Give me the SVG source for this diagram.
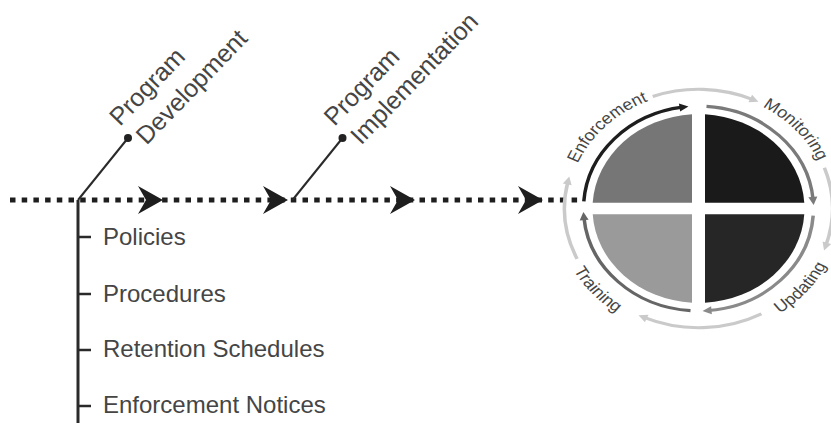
<svg xmlns="http://www.w3.org/2000/svg" width="831" height="423" viewBox="0 0 831 423">
  <style>
    .lbl { font-family: "Liberation Sans", Arial, sans-serif; fill: #454545; }
    .list { font-size: 24px; }
    .diag { font-size: 25px; }
    .ring { font-size: 18px; }
    .spine { stroke: #2a2a2a; fill: none; }
    .flow { stroke: #1e1e1e; stroke-width: 5; stroke-dasharray: 5.5 6.2; fill: none; }
    .head { fill: #1e1e1e; }
    .inner { fill: none; stroke-width: 3.5; }
    .outer { fill: none; stroke: #cacaca; stroke-width: 3.5; }
  </style>
  <defs>
    <marker id="ah-black" markerUnits="userSpaceOnUse" refX="3" refY="0" markerWidth="12" markerHeight="12" orient="auto" overflow="visible">
      <path d="M0,-4.5 L9,0 L0,4.5 Z" fill="#1e1e1e"/>
    </marker>
    <marker id="ah-mid" markerUnits="userSpaceOnUse" refX="3" refY="0" markerWidth="12" markerHeight="12" orient="auto" overflow="visible">
      <path d="M0,-4.5 L9,0 L0,4.5 Z" fill="#7a7a7a"/>
    </marker>
    <marker id="ah-mid2" markerUnits="userSpaceOnUse" refX="3" refY="0" markerWidth="12" markerHeight="12" orient="auto" overflow="visible">
      <path d="M0,-4.5 L9,0 L0,4.5 Z" fill="#8a8a8a"/>
    </marker>
    <marker id="ah-dark" markerUnits="userSpaceOnUse" refX="3" refY="0" markerWidth="12" markerHeight="12" orient="auto" overflow="visible">
      <path d="M0,-4.5 L9,0 L0,4.5 Z" fill="#666666"/>
    </marker>
    <marker id="ah-light" markerUnits="userSpaceOnUse" refX="3" refY="0" markerWidth="12" markerHeight="12" orient="auto" overflow="visible">
      <path d="M0,-4.5 L9,0 L0,4.5 Z" fill="#cacaca"/>
    </marker>
    <!-- label paths for the cycle wheel (local wheel coordinates) -->
    <path id="tp-enf" d="M-126.5,33.9 A131,131 0 0 1 33.9,-126.5"/>
    <path id="tp-mon" d="M-32.9,-126.8 A131,131 0 0 1 123.3,44.3"/>
    <path id="tp-upd" d="M-27.3,140.4 A143,143 0 0 0 135.2,-46.6"/>
    <path id="tp-trn" d="M-136.0,-44.2 A143,143 0 0 0 29.7,139.9"/>
  </defs>

  <!-- connectors: main timeline, branches and list spine -->
  <g id="connectors">
    <line class="flow" x1="10" y1="200" x2="582" y2="200"/>
    <path class="head" d="M138,186 L163,200 L138,214 L146,200 Z"/>
    <path class="head" d="M263,186 L288,200 L263,214 L271,200 Z"/>
    <path class="head" d="M390,186 L415,200 L390,214 L398,200 Z"/>
    <path class="head" d="M518,186 L543,200 L518,214 L526,200 Z"/>
    <line class="spine" stroke-width="2" x1="78" y1="200" x2="128" y2="138"/>
    <circle cx="128" cy="138" r="4" fill="#222"/>
    <line class="spine" stroke-width="2" x1="292.5" y1="200" x2="342.5" y2="138"/>
    <circle cx="342.5" cy="138" r="4" fill="#222"/>
    <line class="spine" stroke-width="3" x1="78" y1="200" x2="78" y2="423"/>
    <line class="spine" stroke-width="2.5" x1="78" y1="237" x2="91" y2="237"/>
    <line class="spine" stroke-width="2.5" x1="78" y1="294" x2="91" y2="294"/>
    <line class="spine" stroke-width="2.5" x1="78" y1="350" x2="91" y2="350"/>
    <line class="spine" stroke-width="2.5" x1="78" y1="406" x2="91" y2="406"/>
  </g>

  <g id="program-development">
    <text class="lbl diag" transform="translate(120,127) rotate(-46)"><tspan x="0" y="0">Program</tspan><tspan x="5" y="32">Development</tspan></text>
  </g>
  <g id="program-implementation">
    <text class="lbl diag" transform="translate(334.5,127) rotate(-46)"><tspan x="0" y="0">Program</tspan><tspan x="5" y="32">Implementation</tspan></text>
  </g>

  <g id="policies"><text class="lbl list" x="103" y="245">Policies</text></g>
  <g id="procedures"><text class="lbl list" x="103" y="302">Procedures</text></g>
  <g id="retention-schedules"><text class="lbl list" x="103" y="357">Retention Schedules</text></g>
  <g id="enforcement-notices"><text class="lbl list" x="103" y="413">Enforcement Notices</text></g>

  <!-- maintenance cycle wheel -->
  <g id="cycle" transform="translate(698.5,208.5) scale(1,0.89)">
    <g id="quadrants">
      <path d="M-6.5,-6.5 V-105.8 A106,106 0 0 0 -105.8,-6.5 Z" fill="#767676"/>
      <path d="M6.5,-6.5 H105.8 A106,106 0 0 0 6.5,-105.8 Z" fill="#1a1a1a"/>
      <path d="M6.5,6.5 V105.8 A106,106 0 0 0 105.8,6.5 Z" fill="#262626"/>
      <path d="M-6.5,6.5 H-105.8 A106,106 0 0 0 -6.5,105.8 Z" fill="#9a9a9a"/>
    </g>
    <g id="inner-arcs">
      <path class="inner" stroke="#1e1e1e" marker-end="url(#ah-black)" d="M-114.7,-8.0 A115,115 0 0 1 -16.0,-113.9"/>
      <path class="inner" stroke="#7a7a7a" marker-end="url(#ah-mid)" d="M8.0,-114.7 A115,115 0 0 1 114.6,-10.0"/>
      <path class="inner" stroke="#8a8a8a" marker-end="url(#ah-mid2)" d="M114.7,8.0 A115,115 0 0 1 10.0,114.6"/>
      <path class="inner" stroke="#666666" marker-end="url(#ah-dark)" d="M-8.0,114.7 A115,115 0 0 1 -114.6,10.0"/>
    </g>
    <g id="outer-arcs">
      <path class="outer" marker-end="url(#ah-light)" d="M-45.8,-125.9 A134,134 0 0 1 54.5,-122.4"/>
      <path class="outer" marker-end="url(#ah-light)" d="M125.9,-45.8 A134,134 0 0 1 127.4,41.4"/>
      <path class="outer" marker-end="url(#ah-light)" d="M62.9,118.3 A134,134 0 0 1 -54.5,122.4"/>
      <path class="outer" marker-end="url(#ah-light)" d="M-121.4,56.6 A134,134 0 0 1 -130.6,-30.1"/>
    </g>
    <g id="enforcement"><text class="lbl ring"><textPath href="#tp-enf" startOffset="50%" text-anchor="middle">Enforcement</textPath></text></g>
    <g id="monitoring"><text class="lbl ring"><textPath href="#tp-mon" startOffset="50%" text-anchor="middle">Monitoring</textPath></text></g>
    <g id="updating"><text class="lbl ring"><textPath href="#tp-upd" startOffset="50%" text-anchor="middle">Updating</textPath></text></g>
    <g id="training"><text class="lbl ring"><textPath href="#tp-trn" startOffset="50%" text-anchor="middle">Training</textPath></text></g>
  </g>
</svg>
